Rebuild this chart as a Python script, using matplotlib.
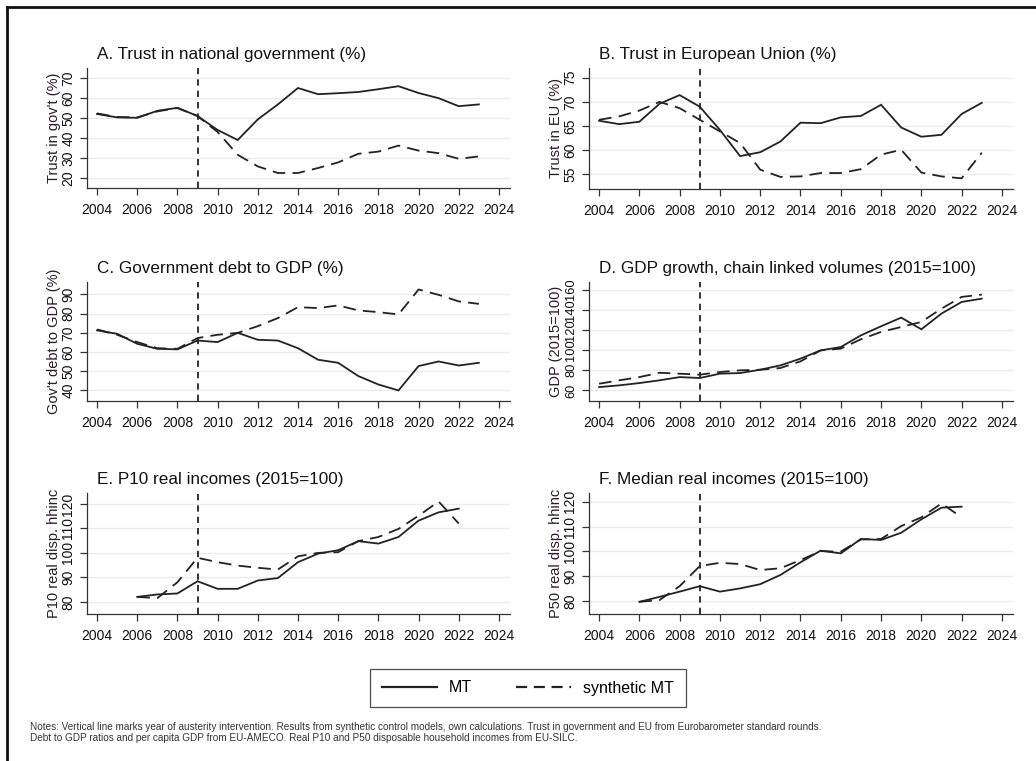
import matplotlib
matplotlib.use("Agg")
import matplotlib.pyplot as plt
from matplotlib.lines import Line2D

plt.rcParams['font.family'] = ['Liberation Sans', 'DejaVu Sans']

years = list(range(2004, 2024))
years_inc = list(range(2006, 2023))

# A. Trust in national government (%)
gov_mt = [52, 50.3, 50.1, 53.6, 55.1, 51, 44, 39, 49.3, 56.8, 65, 61.9, 62.4, 63, 64.4, 65.9, 62.5, 59.9, 55.9, 56.8]
gov_syn = [52.3, 50.5, 50.3, 53.3, 55, 51, 43, 31.6, 25.8, 22.5, 22.5, 25, 27.8, 32.1, 33.2, 36.2, 33.7, 32.4, 29.6, 30.8]

# B. Trust in European Union (%)
eu_mt = [66.1, 65.4, 65.9, 69.6, 71.4, 69, 64.2, 58.8, 59.6, 61.8, 65.7, 65.6, 66.8, 67.1, 69.4, 64.7, 62.8, 63.2, 67.5, 69.8]
eu_syn = [66.3, 67, 68.2, 70, 68.7, 66.3, 63.9, 61.5, 56, 54.5, 54.6, 55.3, 55.3, 56.1, 59.1, 60.1, 55.4, 54.6, 54.2, 59.5]

# C. Government debt to GDP (%)
debt_mt = [71.3, 69.5, 64.3, 61.7, 61.4, 66, 65.2, 70, 66.4, 66, 62, 56, 54.4, 47.5, 43.1, 40, 52.7, 55.1, 53, 54.4]
debt_syn = [71.8, 69, 65.2, 62, 61.7, 67.3, 69, 70, 73.5, 77.7, 83.4, 82.9, 84.3, 81.7, 80.8, 79.6, 92.6, 89.8, 86.4, 85.1]

# D. GDP growth, chain linked volumes (2015=100)
gdp_mt = [63.3, 65, 67.3, 70, 73.2, 72.3, 76.6, 77.2, 80.5, 84.8, 91.5, 99.7, 103, 114.6, 123.6, 132.2, 120.6, 136.2, 147.7, 151]
gdp_syn = [66.6, 70, 73.2, 77.5, 76.6, 75.6, 78.2, 79.9, 80.5, 82.2, 88.8, 99.7, 101.4, 110.7, 118, 122.9, 127.9, 141.1, 152.7, 155]

# E. P10 real incomes (2015=100)
p10_mt = [82, 83, 83.4, 88.4, 85.3, 85.3, 88.7, 89.7, 96.2, 99.7, 101.1, 104.8, 103.8, 106.5, 113.2, 116.6, 118.1]
p10_syn = [82, 81.5, 88, 98, 96.2, 94.8, 93.9, 93.2, 98.6, 100, 100.3, 104.8, 106.5, 109.8, 115.2, 121, 112]

# F. Median real incomes (2015=100)
p50_mt = [79.7, 81.7, 83.8, 86, 83.8, 85.1, 86.8, 90.5, 95.6, 100.3, 99.2, 105, 104.6, 107.5, 112.9, 117.6, 118]
p50_syn = [79.7, 80.4, 86, 94.1, 95.4, 94.9, 92.5, 93.2, 96.5, 100.1, 99.9, 104.8, 105, 110.2, 113.7, 119.3, 113.7]

titles = ["A. Trust in national government (%)", "B. Trust in European Union (%)",
          "C. Government debt to GDP (%)", "D. GDP growth, chain linked volumes (2015=100)",
          "E. P10 real incomes (2015=100)", "F. Median real incomes (2015=100)"]
ylabels = ["Trust in gov't (%)", "Trust in EU (%)", "Gov't debt to GDP (%)",
           "GDP (2015=100)", "P10 real disp. hhinc", "P50 real disp. hhinc"]
yticks = [[20, 30, 40, 50, 60, 70], [55, 60, 65, 70, 75], [40, 50, 60, 70, 80, 90],
          [60, 80, 100, 120, 140, 160], [80, 90, 100, 110, 120], [80, 90, 100, 110, 120]]
ylims = [(15, 75), (52, 77), (34.5, 96.5), (49.5, 167.5), (75, 124.5), (74.8, 123.5)]
xticks = list(range(2004, 2025, 2))
intervention_year = 2009

series = [(years, gov_mt, gov_syn), (years, eu_mt, eu_syn), (years, debt_mt, debt_syn),
          (years, gdp_mt, gdp_syn), (years_inc, p10_mt, p10_syn), (years_inc, p50_mt, p50_syn)]

W, H = 1036, 761
fig = plt.figure(figsize=(W / 100, H / 100), dpi=100)

# pixel boxes: left, right, top, bottom
boxes = [(87, 510, 68, 188), (589, 1013, 68, 189),
         (87, 510, 282, 401), (589, 1013, 282, 401),
         (87, 510, 493, 614), (589, 1013, 493, 614)]

txt = '#111111'
for i, (l, r, t, b) in enumerate(boxes):
    ax = fig.add_axes([l / W, 1 - b / H, (r - l) / W, (b - t) / H])
    x, mt, syn = series[i]
    for yv in yticks[i]:
        ax.axhline(yv, color='#ebebeb', lw=1.0, zorder=0)
    ax.plot(x, mt, color='#222222', lw=1.3, solid_joinstyle='miter')
    ax.plot(x, syn, color='#222222', lw=1.3, dashes=(7, 4))
    ax.axvline(intervention_year, color='#222222', lw=1.3, dashes=(3.5, 2.8))
    ax.set_xlim(2003.5, 2024.55)
    ax.set_ylim(*ylims[i])
    ax.set_xticks(xticks)
    ax.set_yticks(yticks[i])
    ysize = 9.3 if i == 3 else 10
    ax.tick_params(axis='x', length=5, width=0.9, pad=6, labelsize=10, colors='#333333', labelcolor=txt)
    ax.tick_params(axis='y', length=5, width=0.9, pad=3.5, labelsize=ysize, colors='#333333',
                   labelcolor=txt, labelrotation=90)
    for lab in ax.get_yticklabels():
        lab.set_va('center')
    for s in ['top', 'right']:
        ax.spines[s].set_visible(False)
    for s in ['left', 'bottom']:
        ax.spines[s].set_color('#333333')
        ax.spines[s].set_linewidth(0.9)
    ax.text(10 / (r - l), 1 + 6 / (b - t), titles[i], transform=ax.transAxes,
            fontsize=12.3, color=txt, ha='left', va='bottom')
    ax.text(-33 / (r - l), 0.5, ylabels[i], transform=ax.transAxes, rotation=90,
            fontsize=10.5, color='#2a1a2a', ha='center', va='center')

# legend
handles = [Line2D([], [], color='#222222', lw=1.6),
           Line2D([], [], color='#222222', lw=1.6, dashes=(5, 3))]
leg = fig.legend(handles, ['MT', 'synthetic MT'], loc='center', ncol=2,
                 bbox_to_anchor=(528 / W, 1 - 688 / H), frameon=True, fancybox=False,
                 edgecolor='#222222', fontsize=11.5, handlelength=3.4, columnspacing=2.8,
                 borderpad=0.75, handletextpad=0.75, borderaxespad=0)
leg.get_frame().set_linewidth(0.9)

notes = ("Notes: Vertical line marks year of austerity intervention. Results from synthetic control models, own calculations. "
         "Trust in government and EU from Eurobarometer standard rounds.\n"
         "Debt to GDP ratios and per capita GDP from EU-AMECO. Real P10 and P50 disposable household incomes from EU-SILC.")
fig.text(30 / W, 1 - 722 / H, notes, fontsize=7.2, color='#333333', ha='left', va='top', linespacing=1.1)

# outer frame (top and left)
fig.add_artist(Line2D([7 / W, 1], [1 - 7 / H, 1 - 7 / H], color='#111111', lw=2, transform=fig.transFigure))
fig.add_artist(Line2D([7 / W, 7 / W], [0, 1 - 7 / H], color='#111111', lw=2, transform=fig.transFigure))

fig.savefig('out.png', dpi=100, facecolor='white')
